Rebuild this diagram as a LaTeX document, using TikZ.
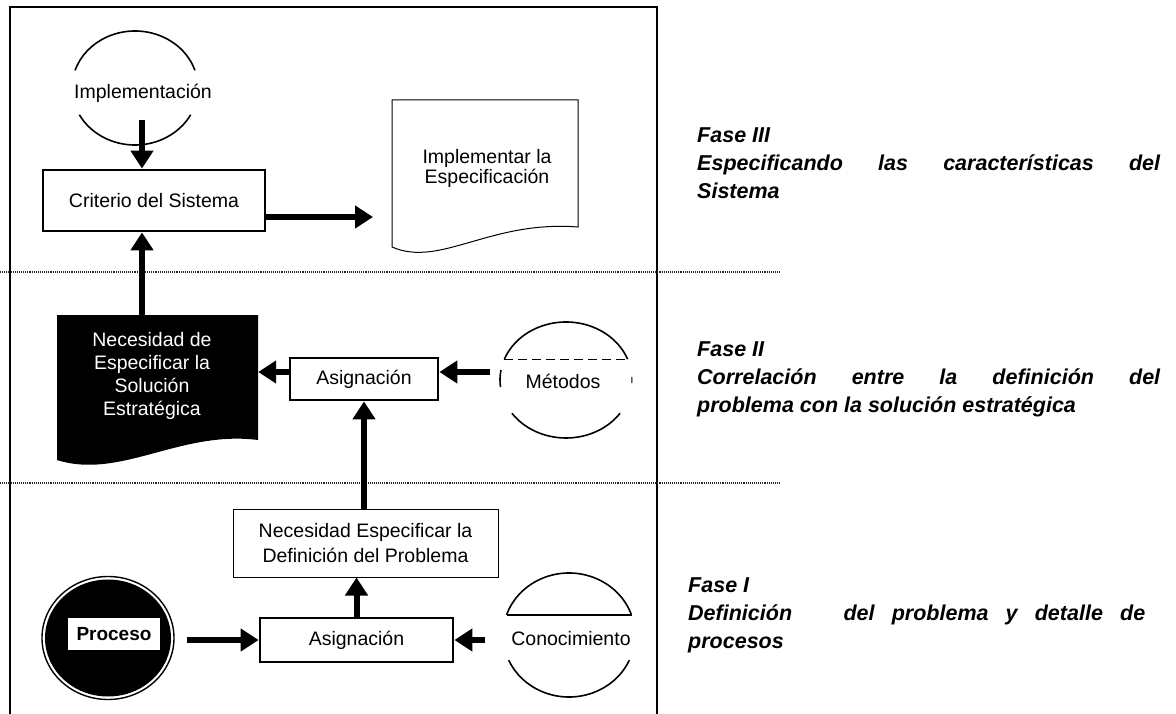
\documentclass[tikz,border=0pt]{standalone}
\usepackage{fontspec}
\setmainfont{Liberation Sans}
\usetikzlibrary{arrows.meta,shapes.geometric}

\begin{document}
\begin{tikzpicture}[x=1pt,y=-1pt,
  lbl/.style={font=\fontsize{19.5}{23}\selectfont, align=center, inner sep=0},
  thickbox/.style={draw, line width=2.8, inner sep=0, font=\fontsize{19.5}{23}\selectfont},
  thinbox/.style={draw, line width=1, inner sep=0, align=center, font=\fontsize{19.5}{25}\selectfont},
  arr/.style={line width=6, -{Triangle[length=18pt,width=22pt]}},
  divider/.style={densely dotted, line width=1.1, black!85},
  arcline/.style={line width=1.6},
  phase/.style={font=\fontsize{21.5}{28}\selectfont\bfseries\itshape, align=justify, inner sep=0, anchor=north west},
]
\useasboundingbox (0,0) rectangle (1176,714);

% outer frame and phase dividers
\draw[line width=2.5] (10,714) -- (10,7) -- (657,7) -- (657,714);
\draw[divider] (0,272) -- (780,272);
\draw[divider] (0,483) -- (780,483);

% ---------- Fase III ----------
\coordinate (implc) at (135,88);
\draw[arcline] (implc) ++(198:63 and 57) arc[start angle=198, end angle=342, x radius=63, y radius=57];
\draw[arcline] (implc) ++(28:63 and 57) arc[start angle=28, end angle=152, x radius=63, y radius=57];
\node[lbl] (impl) at (143,93) {Implementación};
\coordinate (implout) at (142,120);

\node[thickbox, minimum width=222, minimum height=61] (crit) at (154,200.5) {Criterio del Sistema};

% document shape: Implementar la Especificacion
\draw[line width=1] (392,100) -- (578,100) -- (578,227)
   .. controls (490,220) and (440,268) .. (392,247) -- cycle;
\node[lbl, font=\fontsize{19.5}{20}\selectfont] (spec) at (487,168) {Implementar la\\Especificación};
\coordinate (specin) at (373,217);

\draw[arr] (implout) -- (implout |- crit.north);
\draw[arr] (crit.east |- specin) -- (specin);

% ---------- Fase II ----------
\fill (57,315) -- (258,315) -- (258,440)
   .. controls (180,430) and (120,480) .. (57,460) -- cycle;
\node[minimum width=201, minimum height=125, inner sep=0] (necdoc) at (157.5,377.5) {};
\node[lbl, text=white, font=\fontsize{19.5}{22.7}\selectfont] (nec) at (152,376)
  {Necesidad de\\Especificar la\\Solución\\Estratégica};

\node[thickbox, minimum width=148, minimum height=42] (asig2) at (364,379) {Asignación};

\coordinate (metc) at (566,380);
\draw[arcline] (metc) ++(201:66 and 58) arc[start angle=201, end angle=339, x radius=66, y radius=58];
\draw[arcline] (metc) ++(35:66 and 58) arc[start angle=35, end angle=145, x radius=66, y radius=58];
\draw[arcline] (metc) ++(173:66 and 58) arc[start angle=173, end angle=190, x radius=66, y radius=58];
\draw[line width=1] (metc) ++(-3:66 and 58) arc[start angle=-3, end angle=3, x radius=66, y radius=58];
\draw[line width=0.9, dash pattern=on 9pt off 5pt] (504.4,359) -- (627.6,359);
\node[lbl] (met) at (563,381) {Métodos};
\coordinate (metout) at (490,372);

\draw[arr] (necdoc.north -| implout) -- (crit.south -| implout);
\draw[arr] ([yshift=7pt]asig2.west) -- ([yshift=7pt]asig2.west -| necdoc.east);
\draw[arr] (metout) -- (metout -| asig2.east);

% ---------- Fase I ----------
\node[thinbox, minimum width=265, minimum height=68] (defbox) at (365.5,543)
  {Necesidad Especificar la\\Definición del Problema};

\node[thickbox, minimum width=193, minimum height=44] (asig1) at (356.5,640) {Asignación};

% Proceso: black disc with a white inner ring
\draw[line width=1.4] (108,638) ellipse[x radius=66, y radius=61.5];
\fill (108,638) ellipse[x radius=63, y radius=58.5];
\node[fill=white, minimum width=92, minimum height=32, inner sep=0,
      font=\fontsize{19}{22}\selectfont\bfseries] (proc) at (114,634) {Proceso};
\coordinate (procout) at (187,640);

\coordinate (conc) at (569,635);
\draw[arcline] (conc) ++(199:66 and 62) arc[start angle=199, end angle=341, x radius=66, y radius=62];
\draw[arcline] (conc) ++(24:66 and 62) arc[start angle=24, end angle=156, x radius=66, y radius=62];
\draw[line width=1.2] (506.5,615) -- (631.5,615);
\node[lbl] (con) at (571,639) {Conocimiento};
\coordinate (conout) at (485,640);

\draw[arr] (asig1.north) -- (asig1.north |- defbox.south);
\draw[arr] (defbox.north -| asig2.south) -- (asig2.south);
\draw[arr] (procout) -- (asig1.west);
\draw[arr] (conout) -- (asig1.east);

% ---------- phase descriptions ----------
\node[phase, text width=463pt] (f3) at (697,128)
  {Fase III\\Especificando las características del\linebreak Sistema};
\node[phase, text width=463pt] (f2) at (697,342)
  {Fase II\\Correlación entre la definición del\linebreak problema con la solución estratégica};
\node[phase, text width=457pt] (f1) at (688,578)
  {Fase I\\Definición\ \ \ del problema y detalle de\linebreak procesos};
\end{tikzpicture}
\end{document}
